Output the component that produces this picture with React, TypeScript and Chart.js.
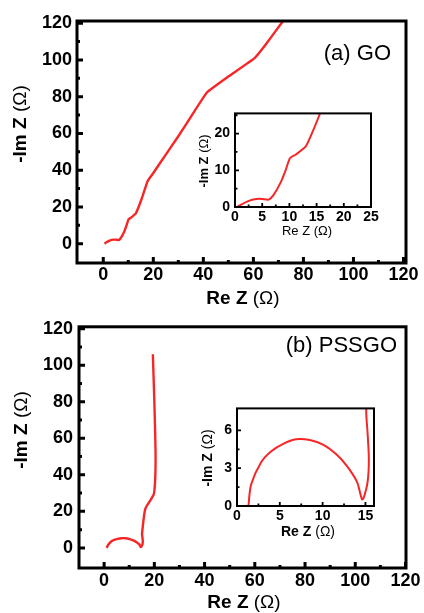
import React, { useEffect, useRef } from 'react';
import { Chart, registerables } from 'chart.js';

Chart.register(...registerables);

// ---------- Data ----------
// (a) GO, main panel
const goRe = [0.5, 1.3, 2.8, 4, 5, 6.2, 7.1, 8.4, 9.3, 10.1, 11.2, 13, 14, 15.5, 17.7, 20, 25, 30, 35, 41.5, 50, 60.5, 65, 72];
const goIm = [0, 0.8, 1.8, 2.2, 2.2, 2, 3.3, 6.7, 10, 13.3, 14.3, 16.5, 19.6, 25, 34, 38.5, 48.5, 58.5, 69, 82.4, 91, 101, 108.5, 121.5];
// (a) GO, inset
const goInsetRe = [0.3, 1.3, 2.8, 4, 5, 6.2, 7.1, 8.4, 9.3, 10.1, 11.2, 13, 14, 15.5, 17.7];
const goInsetIm = [0, 0.8, 1.8, 2.2, 2.2, 2, 3.3, 6.7, 10, 13.3, 14.3, 16.5, 19.6, 25, 34];
// (b) PSSGO, main panel
const pssRe = [1, 1.65, 2.8, 4, 5.4, 6.9, 8.5, 10.1, 11.6, 12.8, 14, 14.6, 14.8, 15.25, 15.4, 15.25, 15.1, 16.4, 19.8, 20.5, 20, 19.4];
const pssIm = [0, 1.7, 3.5, 4.35, 4.95, 5.3, 5.25, 4.85, 4.1, 3.2, 1.9, 0.5, 0.6, 1.9, 3.7, 5.8, 7.7, 21.4, 29.5, 48.5, 80, 106];
// (b) PSSGO, inset
const pssInsetRe = [1.33, 1.65, 2.8, 4, 5.4, 6.9, 8.5, 10.1, 11.6, 12.8, 14, 14.6, 14.8, 15.25, 15.4, 15.25, 15.1, 16.4];
const pssInsetIm = [0, 1.7, 3.46, 4.35, 4.94, 5.3, 5.24, 4.86, 4.1, 3.2, 1.93, 0.53, 0.66, 1.9, 3.7, 5.8, 7.7, 21.4];

// Tick values
const mainXTicks = [0, 20, 40, 60, 80, 100, 120];
const mainXMinor = [10, 30, 50, 70, 90, 110];
const mainYTicks = [0, 20, 40, 60, 80, 100, 120];
const mainYMinor = [10, 30, 50, 70, 90, 110];
const insetAXTicks = [0, 5, 10, 15, 20, 25];
const insetAXMinor = [2.5, 7.5, 12.5, 17.5, 22.5];
const insetAYTicks = [0, 10, 20];
const insetAYMinor = [5, 15, 25];
const insetBXTicks = [0, 5, 10, 15];
const insetBXMinor = [2.5, 7.5, 12.5];
const insetBYTicks = [0, 3, 6];
const insetBYMinor = [1.5, 4.5];

// Texts
type Part = { t: string; bold: boolean };
const xTitle: Part[] = [{ t: 'Re Z ', bold: true }, { t: '(Ω)', bold: false }];
const yTitle: Part[] = [{ t: '-Im Z ', bold: true }, { t: '(Ω)', bold: false }];
const insetXTitleA: Part[] = [{ t: 'Re Z ', bold: false }, { t: '(Ω)', bold: false }];
const labelA = '(a) GO';
const labelB = '(b) PSSGO';

const FONT = '"Liberation Sans", Arial, Helvetica, sans-serif';
const RED = 'rgb(246,38,38)';

function zip(xs: number[], ys: number[]) {
  return xs.map((x, i) => ({ x, y: ys[i] }));
}

function drawMixed(ctx: CanvasRenderingContext2D, parts: Part[], size: number, cx: number, cy: number, rotate: boolean) {
  ctx.save();
  ctx.translate(cx, cy);
  if (rotate) ctx.rotate(-Math.PI / 2);
  ctx.textBaseline = 'middle';
  ctx.textAlign = 'left';
  ctx.fillStyle = '#000';
  const fonts = parts.map(p => `${p.bold ? 'bold ' : ''}${size}px ${FONT}`);
  const widths = parts.map((p, i) => { ctx.font = fonts[i]; return ctx.measureText(p.t).width; });
  let x = -widths.reduce((a, b) => a + b, 0) / 2;
  parts.forEach((p, i) => { ctx.font = fonts[i]; ctx.fillText(p.t, x, 0); x += widths[i]; });
  ctx.restore();
}

interface Spec {
  left: number; top: number; w: number; h: number;
  area: { l: number; t: number; r: number; b: number };
  xMin: number; xMax: number; yMin: number; yMax: number;
  xTicks: number[]; xMinor: number[]; yTicks: number[]; yMinor: number[];
  data: { x: number; y: number }[];
  tickFont: number; xPad: number; yPad: number;
  frameW: number; tickW: number; majorLen: number; minorLen: number;
  lineW: number; tension: number;
  xTitle: Part[]; yTitle: Part[]; titleSize: number;
  xTitlePos: [number, number]; yTitlePos: [number, number];
  label?: string; labelSize?: number; labelPos?: [number, number];
}

const framePlugin = {
  id: 'frameDeco',
  afterDatasetsDraw(chart: any, _args: any, o: any) {
    const spec: Spec = o.spec;
    const { ctx, chartArea: a, scales } = chart;
    const xs = scales.x, ys = scales.y;
    ctx.save();
    ctx.strokeStyle = '#000';
    ctx.lineCap = 'butt';
    ctx.lineWidth = spec.tickW;
    ctx.beginPath();
    const xt = (vals: number[], len: number) => vals.forEach(v => {
      const px = xs.getPixelForValue(v);
      ctx.moveTo(px, a.bottom); ctx.lineTo(px, a.bottom - len);
    });
    const yt = (vals: number[], len: number) => vals.forEach(v => {
      const py = ys.getPixelForValue(v);
      ctx.moveTo(a.left, py); ctx.lineTo(a.left + len, py);
    });
    xt(spec.xTicks, spec.majorLen); xt(spec.xMinor, spec.minorLen);
    yt(spec.yTicks, spec.majorLen); yt(spec.yMinor, spec.minorLen);
    ctx.stroke();
    ctx.lineWidth = spec.frameW;
    ctx.lineJoin = 'miter';
    ctx.strokeRect(a.left, a.top, a.right - a.left, a.bottom - a.top);
    ctx.restore();

    drawMixed(ctx, spec.xTitle, spec.titleSize, spec.xTitlePos[0], spec.xTitlePos[1], false);
    drawMixed(ctx, spec.yTitle, spec.titleSize, spec.yTitlePos[0], spec.yTitlePos[1], true);
    if (spec.label && spec.labelPos) {
      ctx.save();
      ctx.font = `${spec.labelSize}px ${FONT}`;
      ctx.fillStyle = '#000';
      ctx.textAlign = 'right';
      ctx.textBaseline = 'middle';
      ctx.fillText(spec.label, spec.labelPos[0], spec.labelPos[1]);
      ctx.restore();
    }
  },
};

function buildConfig(spec: Spec): any {
  const tickFont = { family: FONT, size: spec.tickFont, weight: 'bold' as const };
  return {
    type: 'scatter',
    data: {
      datasets: [{
        data: spec.data,
        showLine: true,
        borderColor: RED,
        backgroundColor: RED,
        borderWidth: spec.lineW,
        pointRadius: 0,
        tension: spec.tension,
        fill: false,
      }],
    },
    options: {
      responsive: false,
      animation: false,
      devicePixelRatio: 1,
      layout: { padding: { top: spec.area.t, right: spec.w - spec.area.r, left: 0, bottom: 0 } },
      plugins: {
        legend: { display: false },
        tooltip: { enabled: false },
        frameDeco: { spec },
      },
      scales: {
        x: {
          type: 'linear',
          min: spec.xMin, max: spec.xMax,
          afterBuildTicks: (s: any) => { s.ticks = spec.xTicks.map(v => ({ value: v })); },
          afterFit: (s: any) => { s.height = spec.h - spec.area.b; },
          grid: { display: false, drawTicks: false },
          border: { display: false },
          ticks: { font: tickFont, color: '#000', padding: spec.xPad, maxRotation: 0, autoSkip: false, callback: (v: any) => String(v) },
        },
        y: {
          type: 'linear',
          min: spec.yMin, max: spec.yMax,
          afterBuildTicks: (s: any) => { s.ticks = spec.yTicks.map(v => ({ value: v })); },
          afterFit: (s: any) => { s.width = spec.area.l; },
          grid: { display: false, drawTicks: false },
          border: { display: false },
          ticks: { font: tickFont, color: '#000', padding: spec.yPad, autoSkip: false, callback: (v: any) => String(v) },
        },
      },
    },
    plugins: [framePlugin],
  };
}

const specs: Spec[] = [
  {
    left: 0, top: 0, w: 424, h: 310,
    area: { l: 77, t: 21, r: 406, b: 263 },
    xMin: -10.5, xMax: 121, yMin: -10.5, yMax: 121.2,
    xTicks: mainXTicks, xMinor: mainXMinor, yTicks: mainYTicks, yMinor: mainYMinor,
    data: zip(goRe, goIm),
    tickFont: 18, xPad: 1, yPad: 5,
    frameW: 3, tickW: 3, majorLen: 6, minorLen: 3,
    lineW: 2.4, tension: 0.1,
    xTitle, yTitle, titleSize: 19,
    xTitlePos: [243, 299], yTitlePos: [21, 124],
    label: labelA, labelSize: 22, labelPos: [391, 54],
  },
  {
    left: 0, top: 310, w: 424, h: 303,
    area: { l: 79, t: 15, r: 406, b: 258 },
    xMin: -10, xMax: 120.2, yMin: -11, yMax: 121,
    xTicks: mainXTicks, xMinor: mainXMinor, yTicks: mainYTicks, yMinor: mainYMinor,
    data: zip(pssRe, pssIm),
    tickFont: 18, xPad: 2, yPad: 6,
    frameW: 3, tickW: 3, majorLen: 6, minorLen: 3,
    lineW: 2.4, tension: 0.2,
    xTitle, yTitle, titleSize: 19,
    xTitlePos: [244, 293], yTitlePos: [22, 120],
    label: labelB, labelSize: 22, labelPos: [397, 36],
  },
  {
    left: 190, top: 100, w: 200, h: 140,
    area: { l: 45, t: 7, r: 181, b: 107 },
    xMin: 0, xMax: 25, yMin: 0, yMax: 25.5,
    xTicks: insetAXTicks, xMinor: insetAXMinor, yTicks: insetAYTicks, yMinor: insetAYMinor,
    data: zip(goInsetRe, goInsetIm),
    tickFont: 14, xPad: 2, yPad: 5,
    frameW: 2, tickW: 1.8, majorLen: 4, minorLen: 2.5,
    lineW: 2, tension: 0.2,
    xTitle: insetXTitleA, yTitle, titleSize: 13,
    xTitlePos: [117, 131], yTitlePos: [14, 61],
  },
  {
    left: 190, top: 395, w: 200, h: 145,
    area: { l: 47, t: 9, r: 184, b: 111 },
    xMin: 0, xMax: 16, yMin: 0, yMax: 7.75,
    xTicks: insetBXTicks, xMinor: insetBXMinor, yTicks: insetBYTicks, yMinor: insetBYMinor,
    data: zip(pssInsetRe, pssInsetIm),
    tickFont: 14, xPad: 2, yPad: 5,
    frameW: 2, tickW: 1.8, majorLen: 4, minorLen: 2.5,
    lineW: 2, tension: 0.3,
    xTitle, yTitle, titleSize: 14,
    xTitlePos: [118, 137], yTitlePos: [18, 63],
  },
];

function Plot({ spec }: { spec: Spec }) {
  const ref = useRef<HTMLCanvasElement>(null);
  useEffect(() => {
    const chart = new Chart(ref.current as HTMLCanvasElement, buildConfig(spec));
    return () => chart.destroy();
  }, [spec]);
  return (
    <canvas
      ref={ref}
      width={spec.w}
      height={spec.h}
      style={{ position: 'absolute', left: spec.left, top: spec.top, width: spec.w, height: spec.h }}
    />
  );
}

export default function App() {
  return (
    <div style={{ position: 'absolute', left: 0, top: 0, width: 424, height: 613, background: '#fff', overflow: 'hidden' }}>
      {specs.map((s, i) => <Plot key={i} spec={s} />)}
    </div>
  );
}
